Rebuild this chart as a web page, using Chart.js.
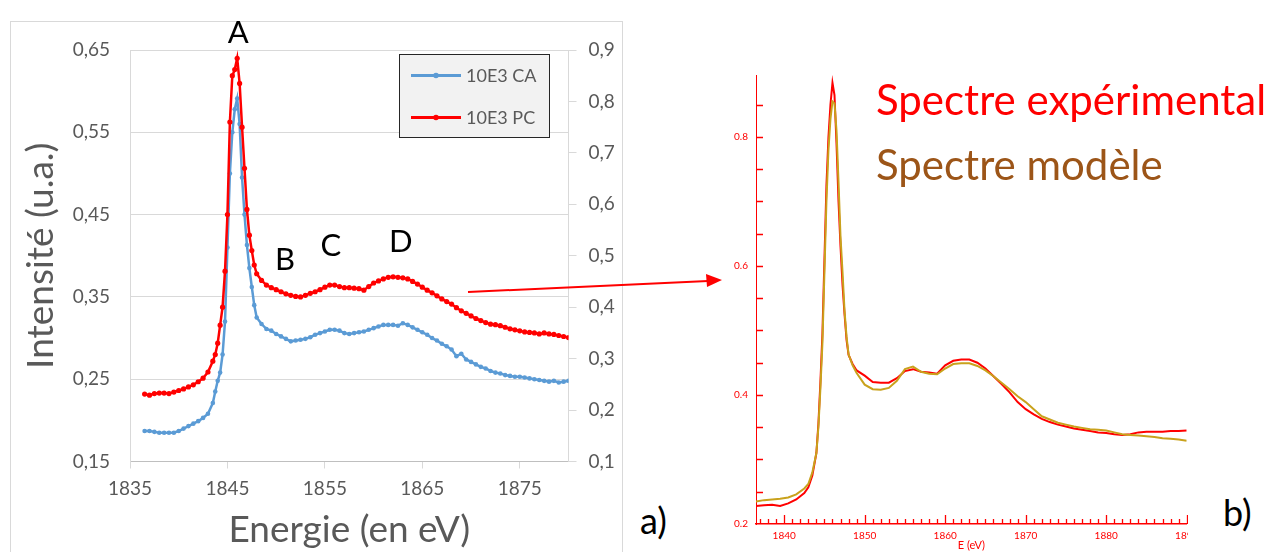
<!DOCTYPE html>
<html lang="fr">
<head>
<meta charset="utf-8">
<title>Spectres XANES</title>
<script src="https://cdn.jsdelivr.net/npm/chart.js@4/dist/chart.umd.min.js"></script>
<style>
  html, body { margin: 0; padding: 0; background: #fff; }
  body { width: 1266px; height: 552px; position: relative; overflow: hidden; font-family: Lato, "Open Sans", sans-serif; }
  #boxA { position: absolute; left: 10px; top: 21px; width: 611px; height: 540px; border: 1px solid #d9d9d9; }
  #chartA { position: absolute; left: 0; top: 0; }
  #wrapB { position: absolute; left: 700px; top: 0; width: 488px; height: 552px; overflow: hidden; }
  #chartB { position: absolute; left: 0; top: 0; }
  .txt { position: absolute; white-space: nowrap; line-height: 40px; }
  #arrow { position: absolute; left: 0; top: 0; pointer-events: none; }
</style>
</head>
<body>
<div id="boxA"></div>
<canvas id="chartA" width="640" height="552"></canvas>
<div id="wrapB"><canvas id="chartB" width="530" height="552"></canvas></div>
<div class="txt" style="left:876px; top:79px; font-size:42px; color:#ff0000;">Spectre expérimental</div>
<div class="txt" style="left:876px; top:144px; font-size:42px; color:#9c5518;">Spectre modèle</div>
<div class="txt" style="left:640px; top:500px; font-size:36px; color:#000;">a)</div>
<div class="txt" style="left:1223px; top:492px; font-size:36px; color:#000;">b)</div>
<svg id="arrow" width="1266" height="552">
  <line x1="468" y1="292" x2="708" y2="281" stroke="#ff0000" stroke-width="2"/>
  <polygon points="722,280 706,274 707,287" fill="#ff0000"/>
</svg>
<script>
// ---- a) données Excel (CA sur l'axe gauche, PC sur l'axe droit)
const energyA = [
  1836.5, 1837, 1837.5, 1838, 1838.5, 1839, 1839.5, 1840, 1840.5, 1841, 1841.5, 1842, 1842.5, 1843, 1843.5,
  1843.75, 1844, 1844.25, 1844.5, 1844.75, 1845, 1845.25, 1845.5, 1845.75, 1846, 1846.25, 1846.5, 1846.75, 1847, 1847.25, 1847.5, 1847.75,
  1848, 1848.5, 1849, 1849.5, 1850, 1850.5, 1851, 1851.5, 1852, 1852.5,
  1853, 1853.5, 1854, 1854.5, 1855, 1855.5, 1856, 1856.5, 1857, 1857.5,
  1858, 1858.5, 1859, 1859.5, 1860, 1860.5, 1861, 1861.5, 1862, 1862.5,
  1863, 1863.5, 1864, 1864.5, 1865, 1865.5, 1866, 1866.5, 1867, 1867.5,
  1868, 1868.5, 1869, 1869.5, 1870, 1870.5, 1871, 1871.5, 1872, 1872.5,
  1873, 1873.5, 1874, 1874.5, 1875, 1875.5, 1876, 1876.5, 1877, 1877.5,
  1878, 1878.5, 1879, 1879.5, 1880
];
const intensityCA = [
  0.187, 0.187, 0.186, 0.185, 0.185, 0.185, 0.185, 0.187, 0.190, 0.193, 0.196, 0.199, 0.203, 0.208, 0.221,
  0.235, 0.248, 0.258, 0.280, 0.320, 0.410, 0.500, 0.550, 0.578, 0.591, 0.560, 0.495, 0.450, 0.413, 0.385, 0.362, 0.340,
  0.325, 0.317, 0.311, 0.309, 0.305, 0.302, 0.299, 0.296, 0.297, 0.298,
  0.299, 0.301, 0.304, 0.306, 0.308, 0.310, 0.310, 0.309, 0.306, 0.305,
  0.306, 0.307, 0.308, 0.310, 0.312, 0.314, 0.316, 0.316, 0.316, 0.315,
  0.318, 0.316, 0.313, 0.310, 0.307, 0.304, 0.300, 0.297, 0.293, 0.290,
  0.286, 0.278, 0.281, 0.274, 0.271, 0.268, 0.265, 0.263, 0.260, 0.258,
  0.257, 0.255, 0.254, 0.253, 0.253, 0.252, 0.251, 0.250, 0.249, 0.248,
  0.247, 0.248, 0.246, 0.247, 0.248
];
const intensityPC = [
  0.231, 0.229, 0.232, 0.233, 0.233, 0.232, 0.235, 0.238, 0.241, 0.245, 0.249, 0.255, 0.262, 0.274, 0.295,
  0.308, 0.330, 0.365, 0.400, 0.470, 0.580, 0.760, 0.850, 0.862, 0.884, 0.835, 0.750, 0.670, 0.590, 0.540, 0.510, 0.482,
  0.465, 0.452, 0.443, 0.438, 0.434, 0.430, 0.426, 0.423, 0.421, 0.420,
  0.423, 0.427, 0.430, 0.434, 0.439, 0.443, 0.443, 0.440, 0.438, 0.438,
  0.437, 0.436, 0.433, 0.440, 0.447, 0.451, 0.455, 0.458, 0.459, 0.458,
  0.457, 0.455, 0.450, 0.445, 0.439, 0.433, 0.428, 0.422, 0.416, 0.411,
  0.406, 0.399, 0.393, 0.388, 0.383, 0.378, 0.374, 0.370, 0.367, 0.366,
  0.364, 0.361, 0.358, 0.356, 0.354, 0.352, 0.351, 0.350, 0.348, 0.350,
  0.348, 0.347, 0.345, 0.343, 0.341
];
const ticksEnergieA = [1835, 1845, 1855, 1865, 1875];
const ticksGauche = [0.15, 0.25, 0.35, 0.45, 0.55, 0.65];
const ticksDroite = [0.1, 0.2, 0.3, 0.4, 0.5, 0.6, 0.7, 0.8, 0.9];
const legendeA = ['10E3 CA', '10E3 PC'];
// lettres des pics (énergie, valeur sur l'axe gauche)
const picsNoms = ['A', 'B', 'C', 'D'];
const picsEnergie = [1846.1, 1850.9, 1855.6, 1862.8];
const picsValeur = [0.671, 0.395, 0.412, 0.417];

// ---- b) spectre expérimental vs modèle
const energyB = [
  1836.5, 1837.5, 1838.5, 1839.5, 1840.5, 1841.5, 1842.5, 1843, 1843.5,
  1844, 1844.25, 1844.5, 1844.75, 1845, 1845.25, 1845.5, 1845.75, 1846, 1846.25, 1846.5, 1846.75, 1847, 1847.25, 1847.5, 1847.75, 1848,
  1848.5,
  1849, 1850, 1851, 1852, 1853, 1854, 1855, 1856, 1857, 1858,
  1859, 1860, 1861, 1862, 1863, 1864, 1865, 1866, 1867, 1868,
  1869, 1870, 1871, 1872, 1873, 1874, 1875, 1876, 1877, 1878,
  1879, 1880, 1881, 1882, 1883, 1884, 1885, 1886, 1887, 1888,
  1889, 1890
];
const spectreExp = [
  0.228, 0.229, 0.230, 0.228, 0.232, 0.238, 0.248, 0.257, 0.275,
  0.310, 0.355, 0.420, 0.495, 0.610, 0.725, 0.800, 0.850, 0.884, 0.865, 0.790, 0.700, 0.630, 0.570, 0.525, 0.485, 0.462,
  0.448,
  0.438, 0.430, 0.420, 0.419, 0.419, 0.426, 0.437, 0.440, 0.436, 0.435,
  0.433, 0.446, 0.453, 0.455, 0.455, 0.450, 0.441, 0.429, 0.417, 0.404,
  0.389, 0.378, 0.370, 0.363, 0.358, 0.354, 0.351, 0.348, 0.346, 0.344,
  0.342, 0.341, 0.339, 0.338, 0.339, 0.342, 0.343, 0.343, 0.343, 0.344,
  0.344, 0.345
];
const spectreModele = [
  0.235, 0.237, 0.238, 0.239, 0.241, 0.246, 0.255, 0.262, 0.280,
  0.310, 0.350, 0.410, 0.480, 0.590, 0.700, 0.780, 0.828, 0.855, 0.852, 0.810, 0.730, 0.645, 0.590, 0.530, 0.490, 0.463,
  0.446,
  0.434, 0.416, 0.409, 0.408, 0.411, 0.422, 0.440, 0.444, 0.436, 0.433,
  0.432, 0.441, 0.448, 0.449, 0.449, 0.445, 0.438, 0.429, 0.419, 0.409,
  0.398, 0.389, 0.378, 0.367, 0.362, 0.357, 0.354, 0.351, 0.349, 0.347,
  0.346, 0.345, 0.342, 0.339, 0.338, 0.337, 0.336, 0.335, 0.333, 0.332,
  0.331, 0.329
];
const ticksEnergieB = [1840, 1850, 1860, 1870, 1880, 1890];
const ticksB = [0.2, 0.4, 0.6, 0.8];

const RED = '#ff0000';
const BLUE = '#5b9bd5';
const GOLD = '#c9a21c';
const GRAY = '#595959';
const GRID = '#d9d9d9';
const FONT = 'Lato, "Open Sans", sans-serif';

const pts = (xs, ys) => xs.map((x, i) => ({ x, y: ys[i] }));
const fixTicks = (list) => (scale) => { scale.ticks = list.map(v => ({ value: v })); };

// légende encadrée façon Excel
const legendA = {
    id: 'legendA',
    afterDraw(chart) {
        const { ctx } = chart;
        ctx.save();
        ctx.fillStyle = '#f2f2f2';
        ctx.fillRect(399.5, 54.5, 150, 83);
        ctx.strokeStyle = '#262626';
        ctx.lineWidth = 1;
        ctx.strokeRect(399.5, 54.5, 150, 83);
        [BLUE, RED].forEach((c, i) => {
            const y = 75.5 + i * 42;
            ctx.strokeStyle = c;
            ctx.lineWidth = 3;
            ctx.beginPath(); ctx.moveTo(411, y); ctx.lineTo(461, y); ctx.stroke();
            ctx.fillStyle = c;
            ctx.beginPath(); ctx.arc(436, y, 2.8, 0, Math.PI * 2); ctx.fill();
            ctx.fillStyle = GRAY;
            ctx.font = '18px ' + FONT;
            ctx.textBaseline = 'middle';
            ctx.fillText(legendeA[i], 466, y + 1);
        });
        ctx.restore();
    }
};

// lettres A, B, C, D placées avec les échelles
const picsLettres = {
    id: 'picsLettres',
    afterDraw(chart) {
        const { ctx, scales } = chart;
        ctx.save();
        ctx.fillStyle = '#000';
        ctx.font = '31px ' + FONT;
        ctx.textAlign = 'center';
        ctx.textBaseline = 'middle';
        picsNoms.forEach((n, i) => {
            ctx.fillText(n, scales.x.getPixelForValue(picsEnergie[i]), scales.yL.getPixelForValue(picsValeur[i]));
        });
        ctx.restore();
    }
};

// graduations tournées vers l'intérieur pour b)
const graduationsB = {
    id: 'graduationsB',
    afterDraw(chart) {
        const { ctx, chartArea, scales: { x, y } } = chart;
        ctx.save();
        ctx.strokeStyle = RED;
        ctx.lineWidth = 1.3;
        ctx.beginPath();
        for (let e = 1837; e <= 1890; e++) {
            const px = Math.round(x.getPixelForValue(e)) + 0.5;
            const len = e % 10 === 0 ? 9 : 5;
            ctx.moveTo(px, chartArea.bottom); ctx.lineTo(px, chartArea.bottom - len);
        }
        for (let k = 5; k <= 17; k++) {
            const py = Math.round(y.getPixelForValue(k * 0.05)) + 0.5;
            ctx.moveTo(chartArea.left, py); ctx.lineTo(chartArea.left + 7, py);
        }
        ctx.stroke();
        ctx.restore();
    }
};

Chart.defaults.font.family = FONT;

new Chart(document.getElementById('chartA'), {
    type: 'scatter',
    data: {
        datasets: [
            {
                label: '10E3 PC', data: pts(energyA, intensityPC), yAxisID: 'yR',
                showLine: true, borderColor: RED, backgroundColor: RED,
                borderWidth: 2.5, pointRadius: 2.6, pointBorderWidth: 0, order: 0
            },
            {
                label: '10E3 CA', data: pts(energyA, intensityCA), yAxisID: 'yL',
                showLine: true, borderColor: BLUE, backgroundColor: BLUE,
                borderWidth: 2.5, pointRadius: 2.3, pointBorderWidth: 0, order: 1
            }
        ]
    },
    options: {
        responsive: false,
        animation: false,
        events: [],
        layout: { padding: { top: 50, left: 0, right: 0, bottom: 0 } },
        plugins: { legend: { display: false }, tooltip: { enabled: false } },
        scales: {
            x: {
                type: 'linear', position: 'bottom', min: 1835, max: 1880,
                afterBuildTicks: fixTicks(ticksEnergieA),
                afterFit: s => { s.height = 90.5; },
                grid: { drawOnChartArea: false, drawTicks: true, tickLength: 7, color: GRID },
                border: { color: '#bfbfbf', width: 1 },
                ticks: { padding: 9, color: GRAY, font: { size: 19 }, maxRotation: 0, callback: v => String(v) },
                title: { display: true, text: 'Energie (en eV)', color: GRAY, font: { size: 37 }, padding: 0 }
            },
            yL: {
                type: 'linear', position: 'left', min: 0.15, max: 0.65,
                afterBuildTicks: fixTicks(ticksGauche),
                afterFit: s => { s.width = 130; },
                grid: { color: GRID, drawTicks: false },
                border: { color: GRID },
                ticks: { padding: 20, color: GRAY, font: { size: 19 }, callback: v => v.toFixed(2).replace('.', ',') },
                title: { display: true, text: 'Intensité (u.a.)', color: GRAY, font: { size: 37 }, padding: { top: 19, bottom: 0 } }
            },
            yR: {
                type: 'linear', position: 'right', min: 0.1, max: 0.9,
                afterBuildTicks: fixTicks(ticksDroite),
                afterFit: s => { s.width = 71.5; },
                grid: { drawOnChartArea: false, tickLength: 8, color: GRID },
                border: { color: GRID },
                ticks: { padding: 12, color: GRAY, font: { size: 19 }, callback: v => v.toFixed(1).replace('.', ',') }
            }
        }
    },
    plugins: [legendA, picsLettres]
});

new Chart(document.getElementById('chartB'), {
    type: 'scatter',
    data: {
        datasets: [
            {
                label: 'Spectre modèle', data: pts(energyB, spectreModele),
                showLine: true, borderColor: GOLD, borderWidth: 2, pointRadius: 0, order: 0
            },
            {
                label: 'Spectre expérimental', data: pts(energyB, spectreExp),
                showLine: true, borderColor: RED, borderWidth: 2, pointRadius: 0, order: 1
            }
        ]
    },
    options: {
        responsive: false,
        animation: false,
        events: [],
        layout: { padding: { top: 75, left: 0, right: 43.3, bottom: 0 } },
        plugins: { legend: { display: false }, tooltip: { enabled: false } },
        scales: {
            x: {
                type: 'linear', min: 1836.5, max: 1890,
                afterBuildTicks: fixTicks(ticksEnergieB),
                afterFit: s => { s.height = 28; },
                grid: { display: false, drawTicks: false },
                border: { color: RED, width: 1.5 },
                ticks: { padding: 6, color: RED, font: { size: 10 }, maxRotation: 0, autoSkip: false, callback: v => String(v) },
                title: { display: true, text: 'E (eV)', color: RED, font: { size: 11 }, padding: 0 }
            },
            y: {
                type: 'linear', min: 0.2, max: 0.896,
                afterBuildTicks: fixTicks(ticksB),
                afterFit: s => { s.width = 56; },
                grid: { display: false, drawTicks: false },
                border: { color: RED, width: 1 },
                ticks: { padding: 8, color: RED, font: { size: 10 }, callback: v => v.toFixed(1) }
            }
        }
    },
    plugins: [graduationsB]
});
</script>
</body>
</html>
